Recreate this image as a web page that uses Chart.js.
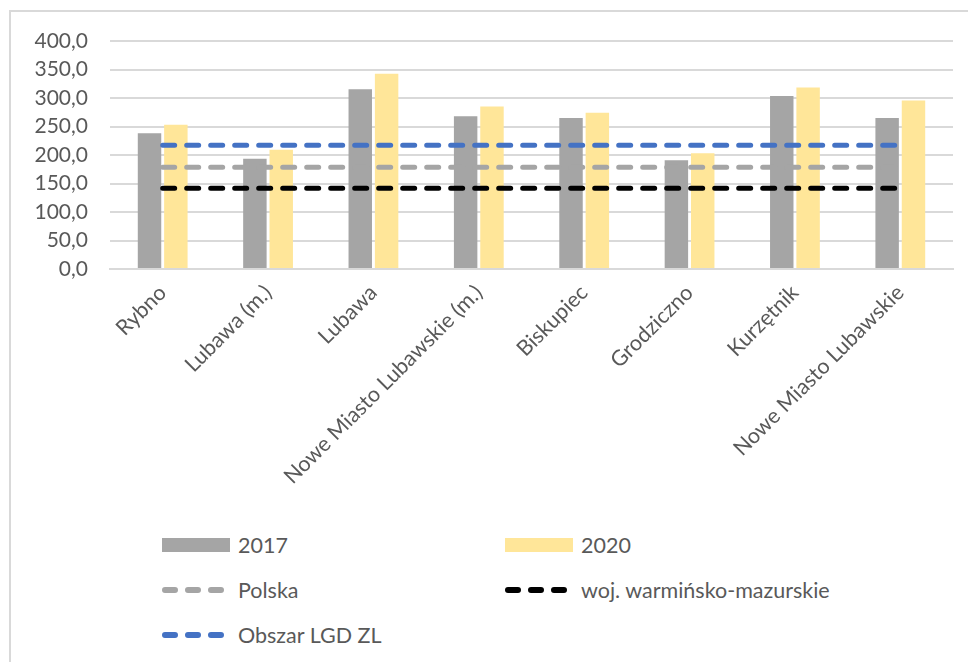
<!DOCTYPE html>
<html lang="pl">
<head>
<meta charset="utf-8">
<script src="https://cdn.jsdelivr.net/npm/chart.js@4.4.1/dist/chart.umd.min.js"></script>
<style>
  html, body { margin: 0; padding: 0; background: #fff; overflow: hidden; }
  body { width: 968px; height: 662px; position: relative; font-family: Lato, 'Open Sans', sans-serif; }
  .frame { position: absolute; left: 9px; top: 10px; width: 1000px; height: 700px; border: 2px solid #d9d9d9; }
  #wrap { position: absolute; left: 0; top: 0; width: 968px; height: 520px; }
  .legend { position: absolute; left: 0; top: 0; color: #595959; font-size: 21.5px; }
  .item { position: absolute; display: flex; align-items: center; white-space: nowrap; }
  .item .sw { width: 68px; height: 14px; margin-right: 8px; }
  .item svg { margin-right: 8px; }
</style>
</head>
<body>
<div class="frame"></div>
<div id="wrap"><canvas id="chart"></canvas></div>
<div class="legend" id="legend"></div>
<script>
'use strict';

const CATEGORIES = [
  'Rybno',
  'Lubawa (m.)',
  'Lubawa',
  'Nowe Miasto Lubawskie (m.)',
  'Biskupiec',
  'Grodziczno',
  'Kurzętnik',
  'Nowe Miasto Lubawskie',
];
const VALUES_2017 = [238.0, 193.5, 315.5, 268.0, 265.0, 191.0, 303.5, 265.0];
const VALUES_2020 = [253.0, 209.0, 342.5, 285.0, 274.0, 203.0, 318.5, 295.5];
const POLSKA = 178.5;
const WOJEWODZTWO = 141.5;
const OBSZAR_LGD = 217.0;
const Y_TICKS = [0, 50, 100, 150, 200, 250, 300, 350, 400];

const GRAY = '#A5A5A5';
const YELLOW = '#FFE699';
const BLUE = '#4472C4';
const BLACK = '#000000';
const TEXT = '#595959';
const GRID = '#D9D9D9';

const flat = (v) => CATEGORIES.map(() => v);

const lineStyle = (color) => ({
  type: 'line',
  borderColor: color,
  backgroundColor: color,
  borderWidth: 5,
  borderDash: [12, 12],
  borderCapStyle: 'round',
  pointRadius: 0,
  fill: false,
  order: 0,
});

const datasets = [
  { label: '2017', data: VALUES_2017, backgroundColor: GRAY, order: 1 },
  { label: '2020', data: VALUES_2020, backgroundColor: YELLOW, order: 1 },
  Object.assign({ label: 'Polska', data: flat(POLSKA) }, lineStyle(GRAY)),
  Object.assign({ label: 'woj. warmińsko-mazurskie', data: flat(WOJEWODZTWO) }, lineStyle(BLACK)),
  Object.assign({ label: 'Obszar LGD ZL', data: flat(OBSZAR_LGD) }, lineStyle(BLUE)),
];

const fmt = (v) => v.toFixed(1).replace('.', ',');

new Chart(document.getElementById('chart'), {
  type: 'bar',
  data: { labels: CATEGORIES, datasets },
  options: {
    responsive: true,
    maintainAspectRatio: false,
    animation: false,
    categoryPercentage: 0.5,
    barPercentage: 0.89,
    layout: { padding: { left: 10, right: 15, top: 41, bottom: 0 } },
    plugins: {
      legend: { display: false },
      tooltip: { enabled: false },
    },
    scales: {
      x: {
        grid: { display: false },
        border: { color: GRID, width: 2 },
        ticks: {
          color: TEXT,
          font: { family: 'Lato', size: 21.5 },
          minRotation: 45,
          maxRotation: 45,
          autoSkip: false,
        },
        afterFit: (axis) => { axis.height = 251; },
      },
      y: {
        min: 0,
        max: 400,
        afterBuildTicks: (axis) => { axis.ticks = Y_TICKS.map((value) => ({ value })); },
        grid: { color: GRID, lineWidth: 2, drawTicks: false },
        border: { display: false },
        ticks: {
          color: TEXT,
          font: { family: 'Lato', size: 21 },
          padding: 22,
          callback: (v) => fmt(v),
        },
        afterFit: (axis) => { axis.width = 100; },
      },
    },
  },
});

// Legend laid out in two columns like the original
const LEGEND_POS = [
  { i: 0, x: 162, y: 545 },
  { i: 1, x: 505, y: 545 },
  { i: 2, x: 162, y: 590 },
  { i: 3, x: 505, y: 590 },
  { i: 4, x: 162, y: 635 },
];
const legend = document.getElementById('legend');
LEGEND_POS.forEach(({ i, x, y }) => {
  const ds = datasets[i];
  const item = document.createElement('div');
  item.className = 'item';
  item.style.left = x + 'px';
  item.style.top = (y - 13) + 'px';
  if (ds.type === 'line') {
    item.innerHTML = '<svg width="68" height="14"><line x1="3" y1="7" x2="66" y2="7" stroke="' + ds.borderColor +
      '" stroke-width="6" stroke-linecap="round" stroke-dasharray="10 13"/></svg>';
  } else {
    item.innerHTML = '<div class="sw" style="background:' + ds.backgroundColor + '"></div>';
  }
  const span = document.createElement('span');
  span.textContent = ds.label;
  item.appendChild(span);
  legend.appendChild(item);
});
</script>
</body>
</html>
